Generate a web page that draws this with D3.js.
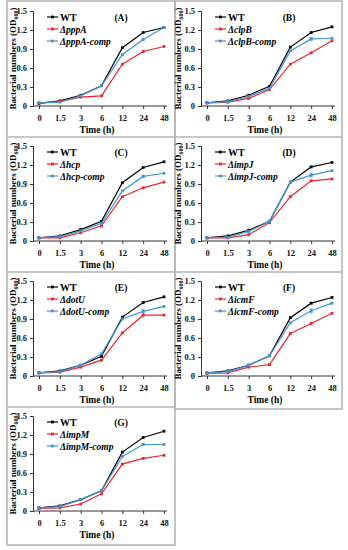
<!DOCTYPE html>
<html>
<head>
<meta charset="utf-8">
<script src="https://cdn.jsdelivr.net/npm/d3@7"></script>
<style>
  body { margin: 0; background: #fff; }
  text { font-family: "Liberation Serif", "Times New Roman", serif; font-weight: bold; }
</style>
</head>
<body>
<svg id="chart"></svg>
<script>
// categories on the x axis (h)
var times = ['0', '1.5', '3', '6', '12', '24', '48'];
var yTicks = [0, 0.3, 0.6, 0.9, 1.2, 1.5];

var panelLabels = ['(A)', '(B)', '(C)', '(D)', '(E)', '(F)', '(G)'];
var mutantNames = ['pppA', 'clpB', 'hcp', 'impJ', 'dotU', 'icmF', 'impM'];

// OD600, one row per panel A..G
var wtOD = [
    [0.04, 0.08, 0.17, 0.32, 0.92, 1.16, 1.24],
    [0.05, 0.08, 0.17, 0.31, 0.93, 1.16, 1.25],
    [0.05, 0.08, 0.18, 0.31, 0.92, 1.16, 1.25],
    [0.05, 0.08, 0.17, 0.31, 0.93, 1.17, 1.24],
    [0.05, 0.08, 0.17, 0.31, 0.93, 1.16, 1.25],
    [0.05, 0.08, 0.17, 0.32, 0.92, 1.15, 1.24],
    [0.05, 0.08, 0.18, 0.32, 0.93, 1.16, 1.26]
];
var mutantOD = [
    [0.05, 0.07, 0.14, 0.16, 0.66, 0.86, 0.94],
    [0.05, 0.06, 0.12, 0.26, 0.66, 0.84, 1.03],
    [0.05, 0.05, 0.13, 0.24, 0.70, 0.84, 0.93],
    [0.05, 0.05, 0.10, 0.29, 0.70, 0.95, 0.98],
    [0.05, 0.06, 0.14, 0.25, 0.68, 0.96, 0.96],
    [0.04, 0.05, 0.14, 0.18, 0.67, 0.83, 0.99],
    [0.04, 0.05, 0.11, 0.27, 0.74, 0.83, 0.88]
];
var compOD = [
    [0.05, 0.06, 0.16, 0.32, 0.81, 1.05, 1.24],
    [0.05, 0.07, 0.15, 0.28, 0.87, 1.06, 1.07],
    [0.05, 0.07, 0.16, 0.28, 0.79, 1.02, 1.07],
    [0.05, 0.06, 0.15, 0.31, 0.93, 1.04, 1.11],
    [0.05, 0.07, 0.17, 0.35, 0.90, 1.02, 1.10],
    [0.05, 0.07, 0.17, 0.32, 0.84, 1.03, 1.15],
    [0.05, 0.07, 0.18, 0.32, 0.86, 1.05, 1.05]
];
// small standard errors on the complemented strain at 24 h
var compErr24 = [0.01, 0.02, 0.02, 0.03, 0.03, 0.03, 0.01];

var colors = {wt: '#000000', mut: '#f0242a', comp: '#3f95d6'};

var svg = d3.select('#chart')
    .attr('width', 348)
    .attr('height', 550);

// panel frames
var frame = svg.append('g')
    .attr('class', 'frames')
    .attr('stroke', '#b3b3b3')
    .attr('stroke-width', 1.5)
    .attr('fill', 'none');
frame.append('rect').attr('x', 7).attr('y', 1).attr('width', 168).attr('height', 544);
frame.append('rect').attr('x', 175).attr('y', 1).attr('width', 167).attr('height', 408);
[137, 272, 407].forEach(function(y) {
    frame.append('line').attr('x1', 7).attr('x2', 175).attr('y1', y).attr('y2', y);
});
[137, 272].forEach(function(y) {
    frame.append('line').attr('x1', 175).attr('x2', 342).attr('y1', y).attr('y2', y);
});

function drawPanel(i) {
    var col = i % 2,
        row = Math.floor(i / 2);
    var cellX = col === 0 ? 7 : 175,
        rowTop = 2 + row * 135;
    var axisX = cellX + 26,
        top = rowTop + 9,
        bottom = rowTop + 104;

    var g = svg.append('g').attr('class', 'panel');

    var x = d3.scalePoint()
        .domain(times)
        .range([axisX + 6, axisX + 131]);
    var y = d3.scaleLinear()
        .domain([0, 1.5])
        .range([bottom, top]);

    // y axis
    var yAxis = g.append('g')
        .attr('transform', 'translate(' + axisX + ',0)')
        .call(d3.axisLeft(y).tickValues(yTicks).tickSize(3).tickPadding(3)
            .tickFormat(function(d) { return d === 0 ? '0' : d3.format('.1f')(d); }));
    yAxis.selectAll('text')
        .attr('font-size', 8.5)
        .attr('font-family', '"Liberation Serif", serif')
        .attr('font-weight', 'bold')
        .attr('fill', '#111');

    // x axis
    var xAxis = g.append('g')
        .attr('transform', 'translate(0,' + bottom + ')')
        .call(d3.axisBottom(x).tickSize(3).tickPadding(6));
    xAxis.select('.domain')
        .attr('d', 'M' + axisX + ',0H' + (axisX + 134));
    xAxis.selectAll('text')
        .attr('font-size', 8.5)
        .attr('font-family', '"Liberation Serif", serif')
        .attr('font-weight', 'bold')
        .attr('fill', '#111');
    g.selectAll('.domain, .tick line').attr('stroke', '#333');

    g.append('text')
        .attr('x', cellX + 90)
        .attr('y', bottom + 27)
        .attr('text-anchor', 'middle')
        .attr('font-size', 9.5)
        .text('Time (h)');

    var yl = g.append('text')
        .attr('transform', 'translate(' + (cellX + (col === 0 ? 9 : 6)) + ',' + ((top + bottom) / 2) + ') rotate(-90)')
        .attr('text-anchor', 'middle')
        .attr('font-size', 9);
    yl.append('tspan').text('Bacterial numbers (OD');
    yl.append('tspan').attr('font-size', 6).attr('dy', 2).text('600');
    yl.append('tspan').attr('dy', -2).text(')');

    var line = d3.line()
        .x(function(d, j) { return x(times[j]); })
        .y(function(d) { return y(d); });

    var series = [
        {key: 'wt', values: wtOD[i]},
        {key: 'mut', values: mutantOD[i]},
        {key: 'comp', values: compOD[i]}
    ];

    // error bar on the complemented strain
    var ex = x('24'), ey = compOD[i][5], ee = compErr24[i];
    g.append('path')
        .attr('d', 'M' + (ex - 1.5) + ',' + y(ey + ee) + 'H' + (ex + 1.5) +
            'M' + ex + ',' + y(ey + ee) + 'V' + y(ey - ee) +
            'M' + (ex - 1.5) + ',' + y(ey - ee) + 'H' + (ex + 1.5))
        .attr('stroke', colors.comp)
        .attr('stroke-width', 0.8)
        .attr('fill', 'none');

    series.forEach(function(s) {
        g.append('path')
            .datum(s.values)
            .attr('d', line)
            .attr('fill', 'none')
            .attr('stroke', colors[s.key])
            .attr('stroke-width', 1.2);
        g.selectAll('.pt-' + s.key)
            .data(s.values)
            .enter()
            .append('rect')
            .attr('x', function(d, j) { return x(times[j]) - 1.4; })
            .attr('y', function(d) { return y(d) - 1.4; })
            .attr('width', 2.8)
            .attr('height', 2.8)
            .attr('fill', colors[s.key]);
    });

    // legend
    var legendRows = [
        {key: 'wt', label: 'WT', italic: false},
        {key: 'mut', label: '\u0394' + mutantNames[i], italic: true},
        {key: 'comp', label: '\u0394' + mutantNames[i] + '-comp', italic: true}
    ];
    legendRows.forEach(function(r, k) {
        var ly = rowTop + 15 + k * 12;
        g.append('line')
            .attr('x1', axisX + 14).attr('x2', axisX + 25)
            .attr('y1', ly).attr('y2', ly)
            .attr('stroke', colors[r.key])
            .attr('stroke-width', 1.2);
        g.append('rect')
            .attr('x', axisX + 18).attr('y', ly - 1.4)
            .attr('width', 2.8).attr('height', 2.8)
            .attr('fill', colors[r.key]);
        g.append('text')
            .attr('x', axisX + 27)
            .attr('y', ly + 3.5)
            .attr('font-size', r.italic ? 9.5 : 10)
            .attr('font-style', r.italic ? 'italic' : 'normal')
            .text(r.label);
    });

    g.append('text')
        .attr('x', axisX + 88)
        .attr('y', rowTop + 19)
        .attr('text-anchor', 'middle')
        .attr('font-family', '"Liberation Sans", Arial, sans-serif')
        .attr('font-size', 9.5)
        .text(panelLabels[i]);
}

for (var i = 0; i < panelLabels.length; i++) {
    drawPanel(i);
}
</script>
</body>
</html>
